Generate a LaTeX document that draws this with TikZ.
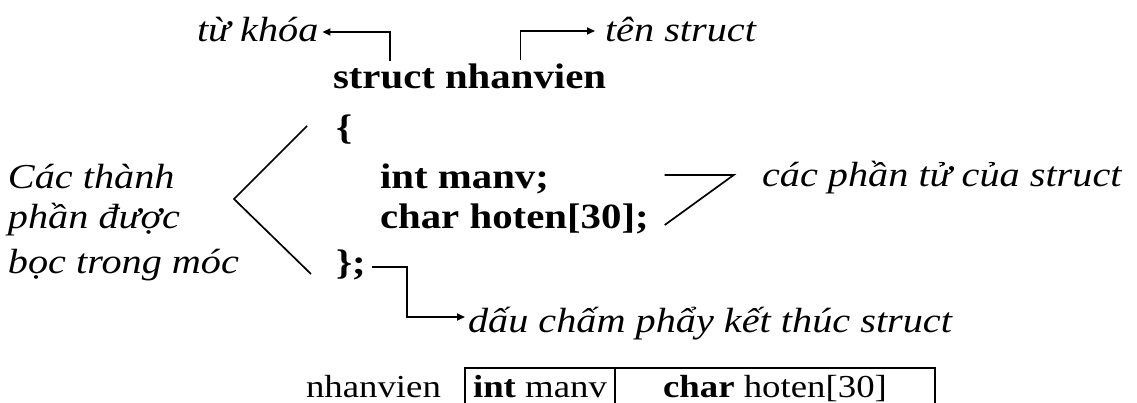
\documentclass[tikz,border=0pt]{standalone}
\usepackage{fontspec}
\setmainfont{Liberation Serif}
\usetikzlibrary{arrows.meta}
\newcommand{\sx}[1]{\scalebox{1.15}[1]{#1}}
\begin{document}
\begin{tikzpicture}[x=1pt,y=-1pt,
  every node/.style={inner sep=0pt, outer sep=0pt, anchor=base west},
  lab/.style={font=\fontsize{35}{42}\selectfont\itshape},
  code/.style={font=\fontsize{35.5}{42}\selectfont\bfseries},
  tab/.style={font=\fontsize{32}{38}\selectfont},
  ln/.style={line width=1.7pt},
  tabline/.style={line width=1.4pt},
  arr/.style={line width=1.7pt, -{Triangle[length=8pt,width=7pt]}}]
\useasboundingbox (0,0) rectangle (1137,403);
\clip (0,0) rectangle (1137,403);
% labels at top
\node[lab] (tk) at (197,42) {\sx{từ khóa}};
\node[lab] (ts) at (605,42) {\sx{tên struct}};
% code
\node[code] (kw) at (333,89) {\sx{struct}};
\node[code] (nm) at ([xshift=10pt]kw.base east) {\sx{nhanvien}};
\node[code] (ob) at (336,140) {\sx{\{}};
\node[code] (m1) at (380,189) {\sx{int manv;}};
\node[code] (m2) at (380,229) {\sx{char hoten[30];}};
\node[code] (cb) at (336,274) {\sx{\};}};
% left text
\node[lab] (l1) at (8,189) {\sx{Các thành}};
\node[lab] (l2) at (8,229) {\sx{phần được}};
\node[lab] (l3) at (8,273) {\sx{bọc trong móc}};
% right labels
\node[lab] (mem) at (762,187) {\sx{các phần tử của struct}};
\node[lab] (dau) at (468,332) {\sx{dấu chấm phẩy kết thúc struct}};
% table
\node[tab] (tn) at (306,397) {\sx{nhanvien}};
\node[tab, anchor=base] (c1) at (540,397) {\sx{\textbf{int} manv}};
\node[tab, anchor=base] (c2) at (775,397) {\sx{\textbf{char} hoten[30]}};
\draw[tabline] (465,420) -- (465,368) -- (935,368) -- (935,420);
\draw[tabline] (615,368) -- (615,420);
% arrows
\draw[arr] ([xshift=6pt,yshift=28pt]kw.base) |- ([xshift=4pt,yshift=10pt]tk.base east);
\draw[arr] ([xshift=-5pt,yshift=29pt]nm.base) |- ([xshift=-10pt,yshift=11pt]ts.base west);
\draw[arr] ([xshift=6pt,yshift=7pt]cb.base east) -- ++(35,0) |- ([xshift=-3pt,yshift=15pt]dau.base west);
% bracket lines
\coordinate (vx) at (234,199);
\draw[ln] ([xshift=-29pt,yshift=14pt]ob.base west) -- (vx) -- ([xshift=-25pt]cb.base west);
\draw[ln] ([xshift=16pt,yshift=4pt]m2.base east) -- ++(69,-50) -- ++(-69,0);
\end{tikzpicture}
\end{document}
